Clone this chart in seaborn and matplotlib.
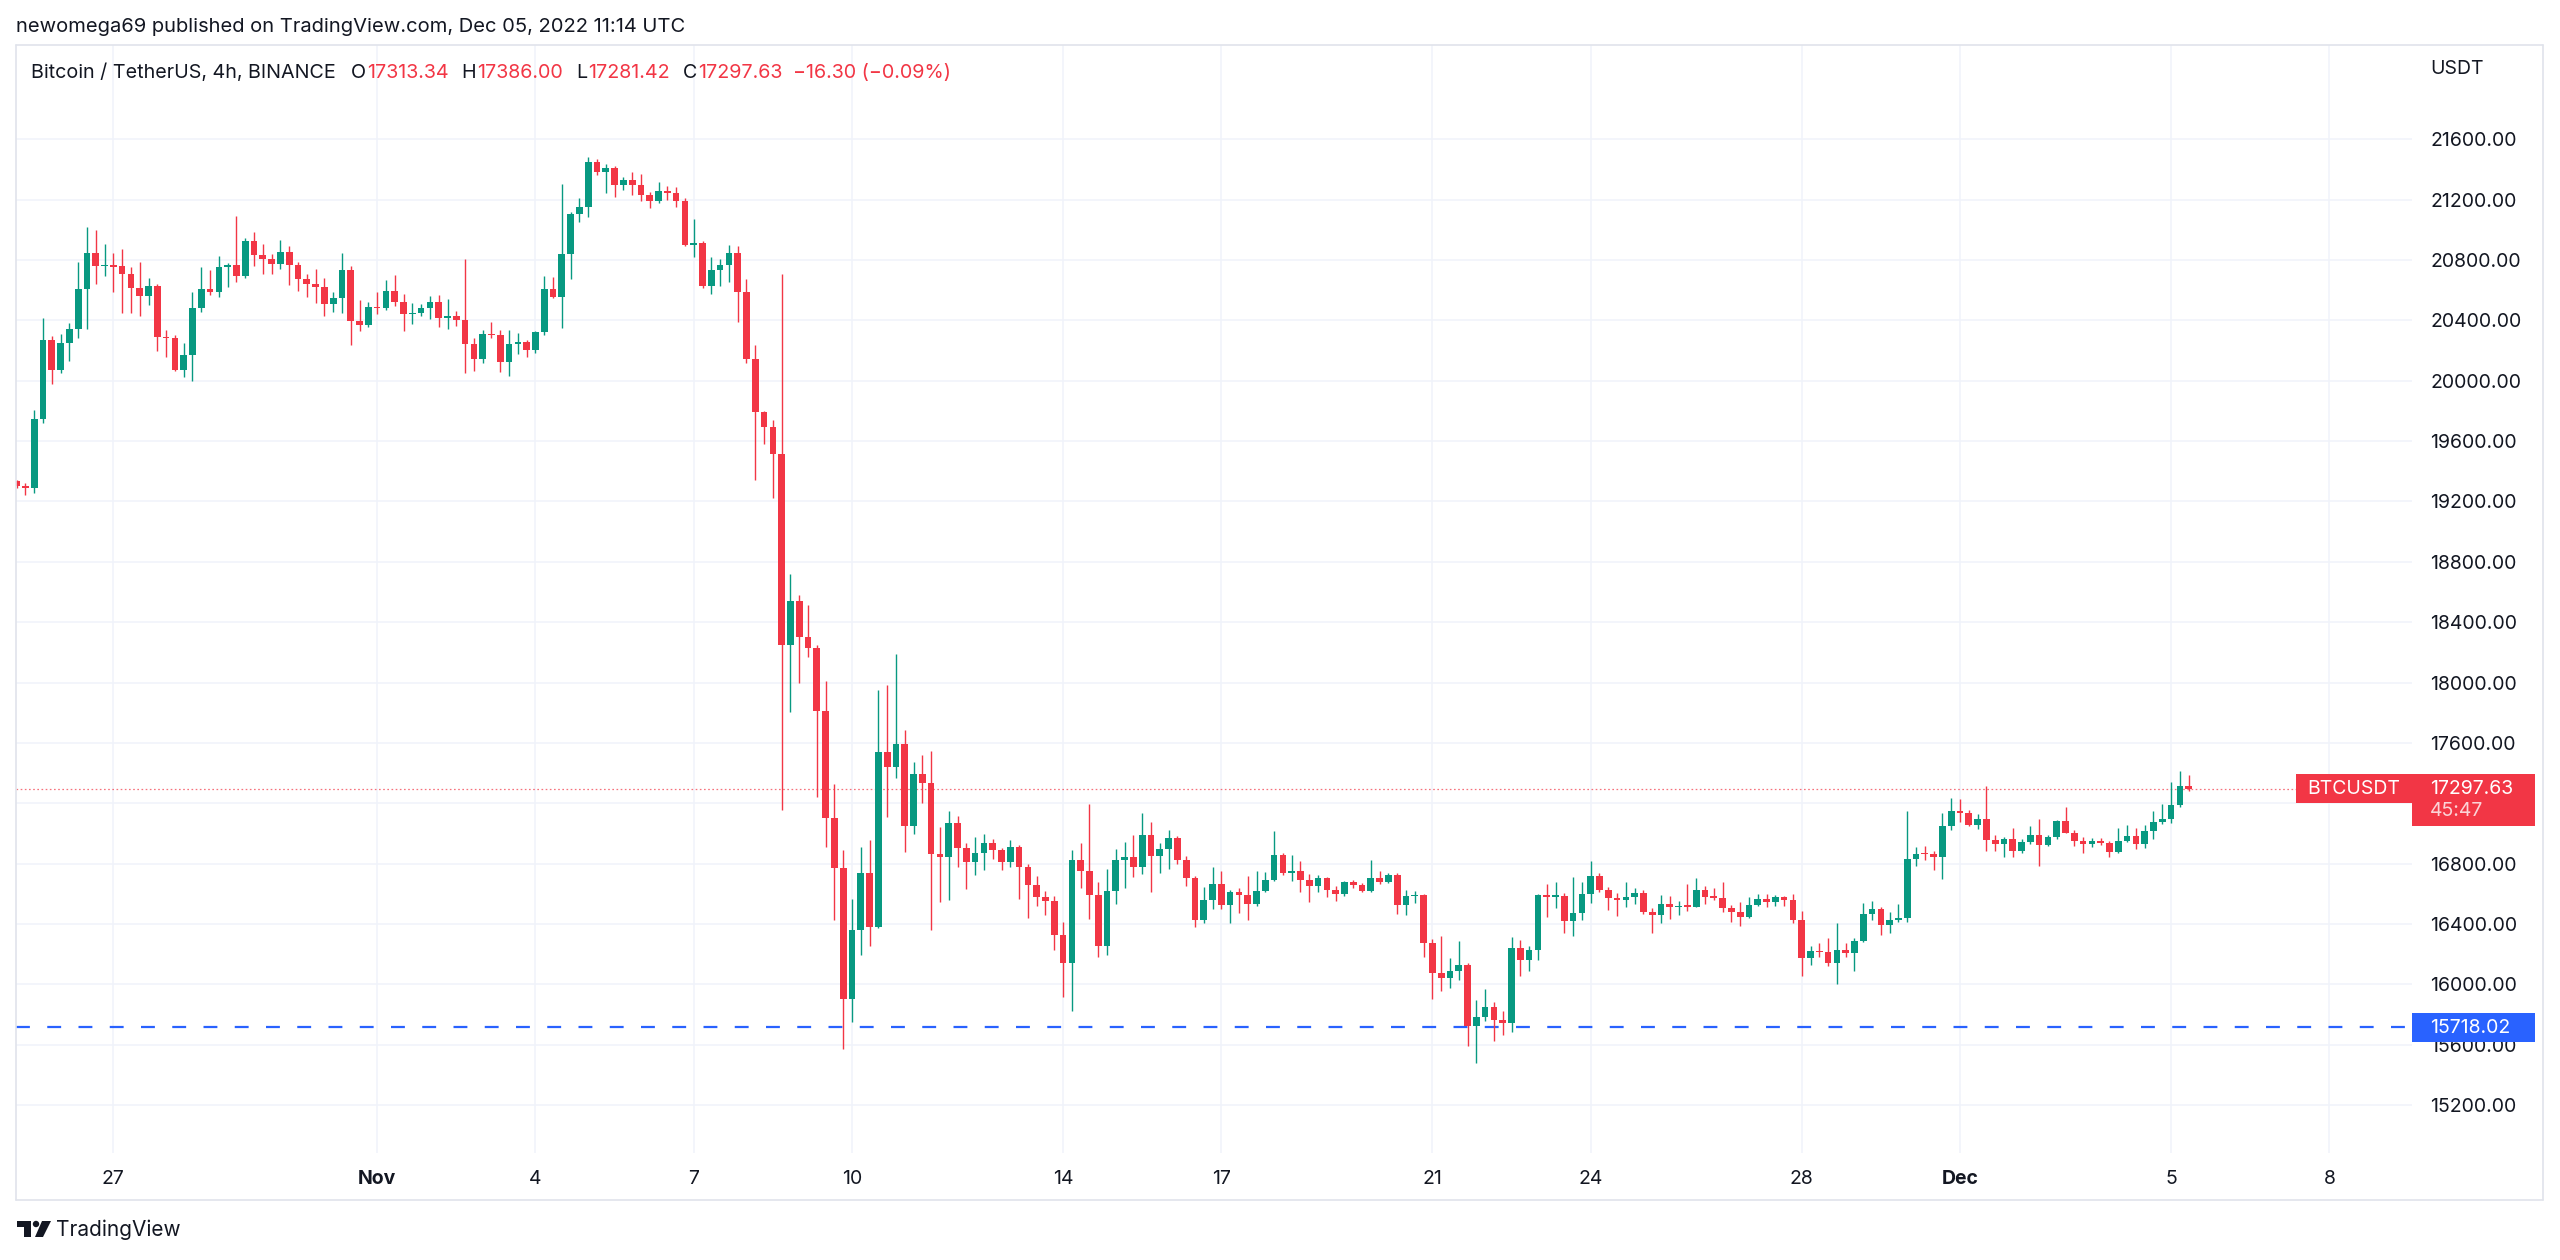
import numpy as np
import pandas as pd
import matplotlib
matplotlib.use("Agg")
import matplotlib.pyplot as plt
import matplotlib.dates as mdates
from matplotlib.lines import Line2D
from matplotlib.patches import Rectangle, Polygon, Circle
from matplotlib.transforms import IdentityTransform
import seaborn as sns

# ---- data: BTCUSDT 4h candles, Binance ----
first_bar = "2022-10-25 04:00"

opens = [
    19336, 19303, 19292, 19746, 20271, 20074, 20250, 20340, 20605, 20844,
    20760, 20770, 20758, 20705, 20616, 20561, 20627, 20293, 20284, 20074,
    20171, 20483, 20610, 20585, 20754, 20770, 20692, 20926, 20836, 20805,
    20773, 20851, 20767, 20674, 20643, 20623, 20510, 20548, 20734, 20399,
    20368, 20490, 20479, 20596, 20519, 20443, 20452, 20483, 20521, 20419,
    20428, 20404, 20242, 20147, 20308, 20300, 20123, 20246, 20260, 20204,
    20324, 20610, 20552, 20838, 21108, 21152, 21447, 21385, 21407, 21299,
    21332, 21299, 21230, 21192, 21259, 21243, 21192, 20902, 20915, 20627,
    20734, 20765, 20847, 20587, 20145, 19794, 19696, 19515, 18250, 18542,
    18301, 18231, 17813, 17104, 16769, 15903, 16359, 16737, 16382, 17540,
    17439, 17591, 17049, 17392, 17337, 16862, 16846, 17069, 16905, 16813,
    16868, 16936, 16892, 16808, 16912, 16775, 16656, 16580, 16550, 16328,
    16138, 16826, 16749, 16595, 16255, 16617, 16824, 16846, 16778, 16987,
    16852, 16899, 16967, 16825, 16706, 16429, 16557, 16665, 16524, 16614,
    16594, 16535, 16616, 16690, 16857, 16740, 16751, 16694, 16654, 16702,
    16624, 16599, 16676, 16656, 16621, 16702, 16676, 16724, 16524, 16586,
    16594, 16277, 16072, 16039, 16085, 16129, 15721, 15783, 15851, 15761,
    15746, 16239, 16162, 16226, 16590, 16581, 16588, 16422, 16471, 16600,
    16716, 16623, 16570, 16557, 16579, 16603, 16482, 16462, 16535, 16513,
    16520, 16515, 16625, 16581, 16575, 16506, 16482, 16449, 16526, 16564,
    16548, 16577, 16556, 16424, 16175, 16224, 16215, 16142, 16226, 16210,
    16290, 16465, 16498, 16392, 16425, 16438, 16833, 16866, 16862, 16844,
    17050, 17150, 17132, 17055, 17093, 16957, 16932, 16961, 16884, 16943,
    16988, 16921, 16974, 17082, 17005, 16948, 16928, 16950, 16939, 16875,
    16950, 16981, 16932, 17018, 17075, 17093, 17189, 17313.34,
]

highs = [
    19345, 19325, 19808, 20415, 20295, 20311, 20384, 20785, 21019, 20997,
    20909, 20844, 20871, 20754, 20785, 20678, 20641, 20333, 20306, 20249,
    20590, 20754, 20734, 20829, 20780, 21090, 20946, 20984, 20904, 20838,
    20935, 20891, 20785, 20705, 20740, 20678, 20590, 20844, 20758, 20532,
    20519, 20590, 20665, 20703, 20572, 20514, 20508, 20561, 20568, 20539,
    20459, 20805, 20284, 20333, 20388, 20339, 20339, 20317, 20271, 20328,
    20692, 20685, 21303, 21115, 21208, 21482, 21471, 21436, 21423, 21352,
    21383, 21372, 21250, 21314, 21290, 21281, 21214, 21070, 20924, 20818,
    20805, 20898, 20891, 20672, 20240, 19797, 19739, 20706, 18722, 18581,
    18511, 18250, 18008, 17326, 16889, 16566, 16909, 16955, 17950, 17981,
    18191, 17688, 17474, 17521, 17547, 17040, 17148, 17117, 16934, 16974,
    16994, 16963, 16905, 16956, 16923, 16795, 16716, 16621, 16586, 16416,
    16890, 16938, 17194, 16676, 16764, 16896, 16943, 16987, 17137, 17075,
    16936, 17020, 16980, 16848, 16720, 16647, 16777, 16751, 16625, 16641,
    16720, 16751, 16747, 17015, 16872, 16857, 16819, 16729, 16725, 16711,
    16652, 16685, 16689, 16669, 16821, 16751, 16738, 16738, 16625, 16621,
    16597, 16299, 16321, 16173, 16286, 16140, 15893, 15968, 15886, 15820,
    16314, 16292, 16255, 16599, 16665, 16678, 16603, 16714, 16677, 16816,
    16740, 16647, 16608, 16678, 16639, 16623, 16504, 16592, 16586, 16552,
    16665, 16702, 16652, 16636, 16678, 16526, 16544, 16577, 16601, 16597,
    16590, 16586, 16597, 16489, 16251, 16275, 16310, 16405, 16275, 16305,
    16540, 16552, 16511, 16478, 16529, 17150, 16910, 16917, 16884, 17136,
    17236, 17225, 17154, 17126, 17317, 16988, 16976, 17036, 16961, 17049,
    17093, 16988, 17091, 17174, 17025, 16976, 16970, 16970, 16950, 17036,
    17055, 17036, 17055, 17150, 17194, 17340, 17414, 17386.00,
]

lows = [
    19290, 19240, 19258, 19717, 19978, 20049, 20129, 20280, 20340, 20641,
    20696, 20585, 20452, 20452, 20428, 20499, 20198, 20160, 20063, 20023,
    19996, 20455, 20567, 20554, 20623, 20654, 20678, 20758, 20705, 20705,
    20740, 20634, 20592, 20554, 20514, 20428, 20455, 20448, 20238, 20328,
    20353, 20443, 20470, 20494, 20328, 20375, 20430, 20410, 20355, 20342,
    20362, 20049, 20063, 20118, 20282, 20058, 20029, 20180, 20160, 20182,
    20304, 20548, 20348, 20672, 21053, 21084, 21363, 21241, 21217, 21263,
    21234, 21192, 21148, 21181, 21197, 21152, 20893, 20820, 20616, 20572,
    20627, 20654, 20386, 20118, 19342, 19580, 19225, 17158, 17805, 17997,
    18172, 17240, 16909, 16429, 15571, 15747, 16195, 16254, 16370, 17112,
    17365, 16878, 16995, 17201, 16361, 16548, 16559, 16778, 16634, 16727,
    16760, 16833, 16760, 16778, 16566, 16438, 16522, 16462, 16228, 15913,
    15820, 16640, 16431, 16180, 16191, 16530, 16640, 16709, 16733, 16614,
    16740, 16764, 16797, 16654, 16378, 16405, 16502, 16502, 16409, 16471,
    16429, 16517, 16610, 16686, 16725, 16685, 16610, 16548, 16610, 16581,
    16555, 16588, 16636, 16610, 16615, 16665, 16669, 16467, 16460, 16537,
    16180, 15902, 15957, 15973, 16026, 15593, 15479, 15754, 15622, 15666,
    15684, 16052, 16087, 16162, 16449, 16504, 16343, 16323, 16427, 16538,
    16610, 16494, 16451, 16513, 16535, 16469, 16343, 16405, 16436, 16460,
    16487, 16511, 16535, 16559, 16480, 16414, 16385, 16440, 16522, 16515,
    16520, 16520, 16405, 16055, 16129, 16180, 16122, 15999, 16184, 16087,
    16281, 16427, 16328, 16341, 16414, 16414, 16785, 16826, 16760, 16696,
    17021, 17077, 17050, 17031, 16882, 16886, 16842, 16842, 16873, 16932,
    16785, 16917, 16965, 17003, 16915, 16873, 16908, 16926, 16846, 16868,
    16943, 16895, 16904, 16965, 17060, 17067, 17178, 17281.42,
]

closes = [
    19303, 19292, 19746, 20271, 20074, 20253, 20346, 20610, 20844, 20760,
    20770, 20754, 20705, 20616, 20561, 20627, 20293, 20284, 20074, 20171,
    20483, 20610, 20585, 20754, 20770, 20692, 20926, 20836, 20805, 20773,
    20851, 20767, 20674, 20643, 20623, 20510, 20548, 20734, 20399, 20368,
    20490, 20479, 20596, 20519, 20443, 20452, 20483, 20521, 20419, 20428,
    20404, 20242, 20147, 20308, 20300, 20123, 20246, 20260, 20204, 20324,
    20610, 20552, 20838, 21108, 21152, 21447, 21385, 21407, 21299, 21332,
    21299, 21230, 21192, 21259, 21243, 21192, 20902, 20915, 20627, 20734,
    20765, 20847, 20587, 20145, 19794, 19696, 19515, 18250, 18542, 18301,
    18231, 17813, 17104, 16769, 15903, 16359, 16737, 16382, 17540, 17439,
    17591, 17049, 17392, 17337, 16862, 16846, 17069, 16905, 16813, 16868,
    16936, 16892, 16808, 16912, 16775, 16656, 16580, 16550, 16328, 16138,
    16826, 16749, 16595, 16255, 16617, 16824, 16846, 16778, 16987, 16852,
    16899, 16967, 16825, 16706, 16429, 16557, 16665, 16524, 16614, 16594,
    16535, 16616, 16690, 16857, 16740, 16751, 16694, 16654, 16702, 16624,
    16599, 16676, 16656, 16621, 16702, 16676, 16724, 16524, 16586, 16594,
    16277, 16072, 16039, 16085, 16129, 15721, 15783, 15851, 15761, 15746,
    16239, 16162, 16226, 16590, 16581, 16588, 16422, 16471, 16600, 16716,
    16623, 16570, 16557, 16579, 16603, 16482, 16462, 16535, 16513, 16520,
    16515, 16625, 16581, 16575, 16506, 16482, 16449, 16526, 16564, 16548,
    16577, 16556, 16424, 16175, 16224, 16215, 16142, 16226, 16210, 16290,
    16465, 16498, 16392, 16425, 16438, 16833, 16866, 16862, 16844, 17050,
    17150, 17132, 17055, 17093, 16957, 16932, 16961, 16884, 16943, 16988,
    16921, 16974, 17082, 17005, 16948, 16928, 16950, 16939, 16875, 16950,
    16981, 16932, 17018, 17075, 17093, 17189, 17313.34, 17297.63,
]

tick_days = ["2022-10-27", "2022-11-01", "2022-11-04", "2022-11-07", "2022-11-10",
             "2022-11-14", "2022-11-17", "2022-11-21", "2022-11-24", "2022-11-28",
             "2022-12-01", "2022-12-05", "2022-12-08"]
tick_labels = ["27", "Nov", "4", "7", "10", "14", "17", "21", "24", "28", "Dec", "5", "8"]
price_ticks = [15200, 15600, 16000, 16400, 16800, 17200, 17600, 18000,
               18400, 18800, 19200, 19600, 20000, 20400, 20800, 21200, 21600]

last_price = 17297.63
support_level = 15718.02
countdown = "45:47"
change_text = "\u221216.30 (\u22120.09%)"
header_text = "newomega69 published on TradingView.com, Dec 05, 2022 11:14 UTC"
symbol_text = "Bitcoin / TetherUS, 4h, BINANCE"

# ---- style ----
UP = "#089981"
DOWN = "#F23645"
BLUE = "#2962FF"
INK = "#131722"
GRID = "#f0f3fa"
BORDER = "#e0e3eb"

sns.set_theme(style="white")
plt.rcParams["font.family"] = ["Inter", "DejaVu Sans"]
plt.rcParams["lines.scale_dashes"] = False

W, H = 2560, 1260
fig = plt.figure(figsize=(W / 100, H / 100), dpi=100)
fig.patch.set_facecolor("white")

PL, PR, PT, PB = 16, 2412, 45, 1153
ax = fig.add_axes([PL / W, 1 - PB / H, (PR - PL) / W, (PB - PT) / H])
ax.set_facecolor("white")
for s in ax.spines.values():
    s.set_visible(False)

df = pd.DataFrame({
    "time": pd.date_range(first_bar, periods=len(closes), freq="4h"),
    "open": opens, "high": highs, "low": lows, "close": closes,
})
df["x"] = mdates.date2num(df["time"])
df["color"] = np.where(df["close"] >= df["open"], UP, DOWN)
df["body_lo"] = df[["open", "close"]].min(axis=1)
df["body_h"] = (df["close"] - df["open"]).abs().clip(lower=8)

bar_days = 4 / 24
ax.vlines(df["x"], df["low"], df["high"], colors=df["color"], linewidth=1.0, zorder=3)
ax.bar(df["x"], df["body_h"], bottom=df["body_lo"], width=bar_days * 0.76,
       color=df["color"], linewidth=0, zorder=4)

# reference lines
ax.axhline(last_price, color=DOWN, linewidth=0.9, linestyle=(0, (1.2, 1.8)), alpha=0.7, zorder=2)
ax.axhline(support_level, color=BLUE, linewidth=1.6, linestyle=(0, (10, 12.5)), zorder=2)

x0 = df["x"].iloc[0]
ax.set_xlim(x0 - 0.07 * bar_days, x0 + 272.4 * bar_days)
ax.set_ylim(14882, 22225)

# the price label behind the last-price tag is hidden, as on TradingView
ax.set_yticks(price_ticks)
ax.set_yticklabels(["" if abs(p - last_price) < 200 else f"{p:.2f}" for p in price_ticks])
ax.yaxis.tick_right()
ax.tick_params(axis="y", length=0, pad=13, labelsize=14, labelcolor=INK)

ax.set_xticks(mdates.date2num(pd.to_datetime(tick_days)))
ax.set_xticklabels(tick_labels)
ax.tick_params(axis="x", length=0, pad=12, labelsize=14, labelcolor=INK)
for lab in ax.get_xticklabels():
    if lab.get_text() in ("Nov", "Dec"):
        lab.set_fontweight("bold")

ax.grid(True, color=GRID, linewidth=1.1)
ax.set_axisbelow(True)

# ---- frame, header, tags (pixel coordinates) ----
ident = IdentityTransform()


def line_px(xs, ys, **kw):
    fig.add_artist(Line2D(xs, [H - y for y in ys], transform=ident, **kw))


def rect_px(x, y, w, h, color):
    fig.add_artist(Rectangle((x, H - y - h), w, h, transform=ident,
                             facecolor=color, edgecolor="none"))


def text_px(x, y, s, **kw):
    return fig.text(x / W, 1 - y / H, s, **kw)


line_px([16, 2543], [45, 45], color=BORDER, linewidth=1.2)
line_px([16, 2543], [1200, 1200], color=BORDER, linewidth=1.2)
line_px([16, 16], [45, 1200], color=BORDER, linewidth=1.2)
line_px([2543, 2543], [45, 1200], color=BORDER, linewidth=1.2)

text_px(16, 27, header_text, fontsize=14.5, color=INK, va="center", ha="left")

renderer = fig.canvas.get_renderer()


def run_text(x, y, parts, size):
    for s, c, gap in parts:
        t = text_px(x, y, s, fontsize=size, color=c, va="center", ha="left")
        x += t.get_window_extent(renderer).width + gap


run_text(31, 73, [
    (symbol_text, INK, 15),
    ("O", INK, 1), (f"{opens[-1]:.2f}", DOWN, 13),
    ("H", INK, 1), (f"{highs[-1]:.2f}", DOWN, 13),
    ("L", INK, 1), (f"{lows[-1]:.2f}", DOWN, 13),
    ("C", INK, 1), (f"{closes[-1]:.2f}", DOWN, 11),
    (change_text, DOWN, 0),
], 14.2)

text_px(2430, 69, "USDT", fontsize=14, color=INK, va="center", ha="left")

# last price tags
rect_px(2296, 774, 116, 29, DOWN)
text_px(2354, 789, "BTCUSDT", fontsize=14, color="white", va="center", ha="center")
rect_px(2412, 774, 123, 52, DOWN)
text_px(2430, 789, f"{last_price:.2f}", fontsize=14, color="white", va="center", ha="left")
text_px(2430, 811, countdown, fontsize=14, color="#fbd3d7", va="center", ha="left")
rect_px(2412, 1013, 123, 29, BLUE)
text_px(2430, 1028, f"{support_level:.2f}", fontsize=14, color="white", va="center", ha="left")

# TradingView logo
logo_T = [(17, 1221), (31, 1221), (31, 1237), (24, 1237), (24, 1227), (17, 1227)]
fig.add_artist(Polygon([(x, H - y) for x, y in logo_T], closed=True, transform=ident,
                       facecolor=INK, edgecolor="none"))
fig.add_artist(Circle((36, H - 1224), 3.2, transform=ident, facecolor=INK, edgecolor="none"))
logo_V = [(42, 1221), (51, 1221), (43, 1237), (35, 1237)]
fig.add_artist(Polygon([(x, H - y) for x, y in logo_V], closed=True, transform=ident,
                       facecolor=INK, edgecolor="none"))
text_px(56, 1230, "TradingView", fontsize=15, color=INK, va="center", ha="left")

fig.savefig("out.png", dpi=100, facecolor="white")
